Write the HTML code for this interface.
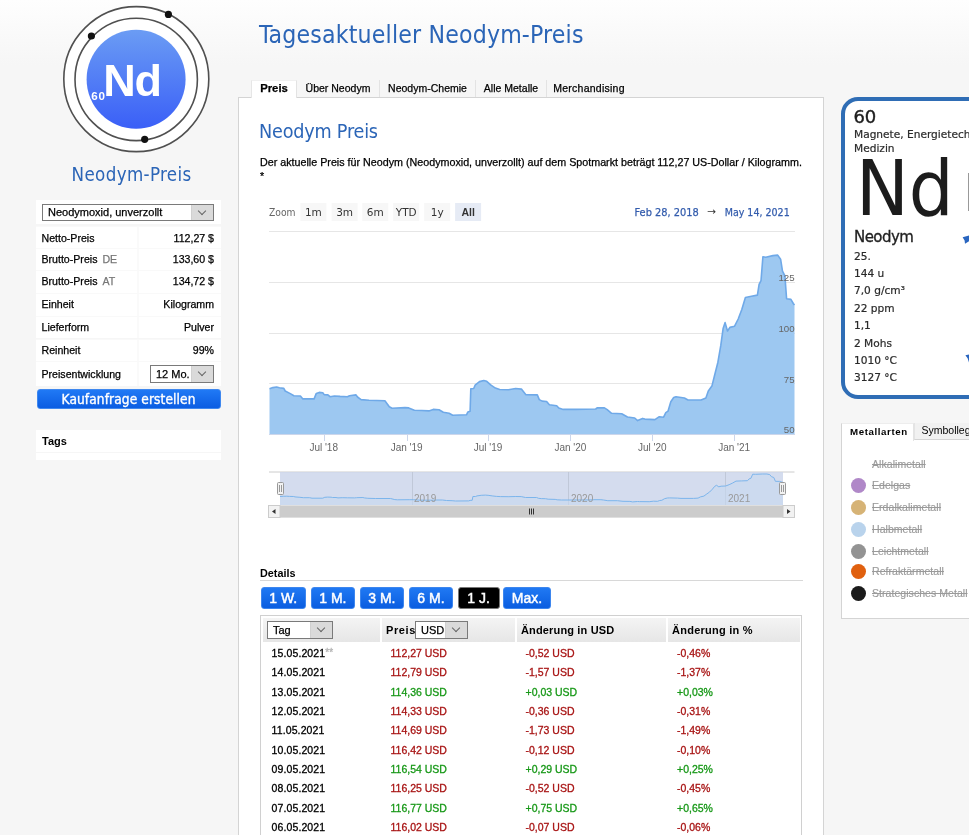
<!DOCTYPE html>
<html lang="de"><head><meta charset="utf-8"><title>Tagesaktueller Neodym-Preis</title>
<style>
*{margin:0;padding:0;box-sizing:border-box}
html,body{width:969px;height:835px;overflow:hidden}
body{background:#f6f6f6 linear-gradient(#fefefe 0,#f6f6f6 65px) no-repeat;font-family:"Liberation Sans",Arial,sans-serif;color:#000;position:relative}
.a{position:absolute;white-space:nowrap}
.dj{font-family:"DejaVu Sans",sans-serif}
.djc{font-family:"DejaVu Sans Condensed","DejaVu Sans",sans-serif}
.blue{color:#2b65b7}
/* left panel */
.lp{left:36px;width:185px;background:#fff}
.row{position:absolute;left:36px;width:185px;height:22px;background:#fff;font-size:10.6px;line-height:20.6px;border-top:1px solid #f9f9f9;-webkit-text-stroke:.25px currentColor}
.row .k{position:absolute;left:5.5px;top:0}
.row .v{position:absolute;right:7px;top:0}
.row .sep{position:absolute;left:101px;top:0;width:2px;height:100%;background:#fafafa}
.sel{position:absolute;background:#fff;border:1px solid #7a7a7a;font-size:11px;line-height:14px;padding-left:5px;-webkit-text-stroke:.25px currentColor}
.sel .dd{position:absolute;right:0;top:0;bottom:0;width:22px;background:#dadada;border-left:1px solid #d0d0d0}
.sel .dd:after{content:"";position:absolute;left:7px;top:3px;width:5px;height:5px;border-right:1px solid #666;border-bottom:1px solid #666;transform:rotate(45deg)}
.btn{position:absolute;color:#fff;border-radius:3px;background:linear-gradient(#2079f5,#0b5de2);border:1px solid #3f88ef;text-align:center}
/* main */
.tab{position:absolute;top:80px;height:17px;font-size:10.5px;line-height:17px;text-align:center;background:transparent;border-right:1px solid #e3e3e3;color:#000;-webkit-text-stroke:.25px #000}
.zb{position:absolute;top:203px;width:26px;height:18px;background:#f7f7f7;font-size:11px;line-height:18px;text-align:center;color:#333;font-family:"DejaVu Sans",sans-serif}
.db{position:absolute;top:587px;width:46px;height:22px;font-size:14px;line-height:20px;-webkit-text-stroke:.45px #fff;font-family:"Liberation Sans",Arial,sans-serif;background:linear-gradient(#2079f3,#0a5de0);border-color:#3d86ee}
.tr{position:absolute;left:262px;width:538px;height:19px;font-size:10.5px;line-height:19px;-webkit-text-stroke:.3px currentColor}
.tr span{position:absolute;top:0}
.r{color:#a81414}.g{color:#179817}
.leg{position:absolute;left:851px;font-size:10.5px;line-height:15px;color:#9a9a9a;white-space:nowrap}
.leg i{position:absolute;left:0;top:0;width:15px;height:15px;border-radius:50%}
.leg span{position:absolute;left:21px;top:0;text-decoration:line-through;letter-spacing:.05px;-webkit-text-stroke:.15px #9a9a9a}
.cl{position:absolute;left:854px;font-size:10.6px;color:#2a2a2a;-webkit-text-stroke:.2px #2a2a2a;font-family:"DejaVu Sans",sans-serif;white-space:nowrap}
</style></head><body>

<!-- LOGO -->
<svg class="a" style="left:0;top:0" width="230" height="160" viewBox="0 0 230 160">
 <defs><linearGradient id="lg" x1="0" y1="0" x2="0" y2="1"><stop offset="0" stop-color="#6b9cf4"/><stop offset="1" stop-color="#3a5ff7"/></linearGradient></defs>
 <circle cx="136.3" cy="79.1" r="72.5" fill="#fff" stroke="#505050" stroke-width="1.6"/>
 <circle cx="136.2" cy="79.4" r="61.2" fill="none" stroke="#505050" stroke-width="1.6"/>
 <circle cx="136.1" cy="79.25" r="49.5" fill="url(#lg)"/>
 <circle cx="168.4" cy="14.4" r="3.6" fill="#111"/>
 <circle cx="91.4" cy="36" r="3.6" fill="#111"/>
 <circle cx="144.7" cy="139.3" r="3.6" fill="#111"/>
 <text x="103.2" y="95.6" fill="#fff" font-family="Liberation Sans" font-weight="bold" font-size="45" letter-spacing="-1.1">Nd</text>
 <text x="91.3" y="99.6" fill="#fff" font-family="Liberation Sans" font-weight="bold" font-size="11.6" letter-spacing=".8">60</text>
</svg>
<div class="a blue djc" style="left:71.6px;top:163px;font-size:18.6px;line-height:24px;letter-spacing:.35px">Neodym-Preis</div>

<!-- LEFT PANEL -->
<div class="a" style="left:36px;top:200px;width:185px;height:24px;background:#fff"></div>
<div class="sel" style="left:42px;top:204px;width:172px;height:17px">Neodymoxid, unverzollt<div class="dd"></div></div>
<div class="row" style="top:226px;height:22px;line-height:22.3px"><div class="sep"></div><span class="k">Netto-Preis</span><span class="v">112,27 $</span></div>
<div class="row" style="top:247.8px;height:22.5px"><div class="sep"></div><span class="k">Brutto-Preis <span style="color:#777;margin-left:2px">DE</span></span><span class="v">133,60 $</span></div>
<div class="row" style="top:270.3px;height:22.5px"><div class="sep"></div><span class="k">Brutto-Preis <span style="color:#777;margin-left:2px">AT</span></span><span class="v">134,72 $</span></div>
<div class="row" style="top:292.8px;height:22.9px"><div class="sep"></div><span class="k">Einheit</span><span class="v">Kilogramm</span></div>
<div class="row" style="top:315.7px;height:22.8px"><div class="sep"></div><span class="k">Lieferform</span><span class="v">Pulver</span></div>
<div class="row" style="top:338.5px;height:22.2px"><div class="sep"></div><span class="k">Reinheit</span><span class="v">99%</span></div>
<div class="row" style="top:360.7px;height:25.3px;line-height:25.3px"><div class="sep"></div><span class="k">Preisentwicklung</span></div>
<div class="sel" style="left:150px;top:365px;width:64px;height:18px;line-height:16px;font-size:11px">12 Mo.<div class="dd"></div></div>
<div class="btn djc" style="left:36.5px;top:389px;width:184px;height:20px;font-size:13.6px;line-height:18px;-webkit-text-stroke:.35px #fff;letter-spacing:.1px">Kaufanfrage erstellen</div>
<div class="a" style="left:36px;top:430px;width:185px;height:22px;background:#fff;font-size:11px;font-weight:bold;line-height:22px;padding-left:6px">Tags</div>
<div class="a" style="left:36px;top:453px;width:185px;height:7px;background:#fff"></div>

<!-- TITLE -->
<div class="a blue djc" style="left:259px;top:19px;font-size:24.6px;line-height:32px;letter-spacing:.17px">Tagesaktueller Neodym-Preis</div>

<!-- MAIN PANEL -->
<div class="a" style="left:238px;top:97px;width:586px;height:760px;background:#fff;border:1px solid #d4d4d4"></div>
<div class="tab" style="left:251px;width:46px;background:#fff;font-weight:bold;font-size:11.3px;border-left:1px solid #e6e6e6;border-top:1px solid #f0f0f0;height:18px;line-height:15px">Preis</div>
<div class="tab" style="left:297px;width:83px">Über Neodym</div>
<div class="tab" style="left:380px;width:96px">Neodym-Chemie</div>
<div class="tab" style="left:476px;width:71px">Alle Metalle</div>
<div class="tab" style="left:547px;width:84px;border-right:none;letter-spacing:.25px">Merchandising</div>

<div class="a blue djc" style="left:259px;top:120px;font-size:19.6px;line-height:24px;letter-spacing:-.2px">Neodym Preis</div>
<div class="a" style="left:260px;top:155px;font-size:10.72px;line-height:14px;white-space:normal;width:560px;-webkit-text-stroke:.25px #000">Der aktuelle Preis für Neodym (Neodymoxid, unverzollt) auf dem Spotmarkt beträgt 112,27 US-Dollar / Kilogramm.<br>*</div>

<!-- CHART -->
<svg class="a" style="left:0;top:0" width="969" height="835" viewBox="0 0 969 835" font-family="Liberation Sans, sans-serif">
<text x="269" y="215.5" font-size="10.2" fill="#666" font-family="DejaVu Sans" textLength="26.5" lengthAdjust="spacingAndGlyphs">Zoom</text><rect x="300.4" y="203" width="26" height="18" fill="#f7f7f7"/><text x="313.4" y="215.5" text-anchor="middle" font-size="10.5" font-weight="normal" font-family="DejaVu Sans" fill="#333">1m</text><rect x="331.6" y="203" width="26" height="18" fill="#f7f7f7"/><text x="344.6" y="215.5" text-anchor="middle" font-size="10.5" font-weight="normal" font-family="DejaVu Sans" fill="#333">3m</text><rect x="362.3" y="203" width="26" height="18" fill="#f7f7f7"/><text x="375.3" y="215.5" text-anchor="middle" font-size="10.5" font-weight="normal" font-family="DejaVu Sans" fill="#333">6m</text><rect x="393.2" y="203" width="26" height="18" fill="#f7f7f7"/><text x="406.2" y="215.5" text-anchor="middle" font-size="10.5" font-weight="normal" font-family="DejaVu Sans" fill="#333">YTD</text><rect x="424.2" y="203" width="26" height="18" fill="#f7f7f7"/><text x="437.2" y="215.5" text-anchor="middle" font-size="10.5" font-weight="normal" font-family="DejaVu Sans" fill="#333">1y</text><rect x="455.1" y="203" width="26" height="18" fill="#e6ebf5"/><text x="468.1" y="215.5" text-anchor="middle" font-size="10.5" font-weight="bold" font-family="Liberation Sans" fill="#333">All</text><text x="634.5" y="215.5" font-size="10.5" fill="#335cad" stroke="#335cad" stroke-width=".25" font-family="DejaVu Sans" textLength="64.3" lengthAdjust="spacingAndGlyphs">Feb 28, 2018</text><text x="707" y="215" font-size="10" fill="#333" font-family="DejaVu Sans" textLength="9" lengthAdjust="spacingAndGlyphs">→</text><text x="724.7" y="215.5" font-size="10.5" fill="#335cad" stroke="#335cad" stroke-width=".25" font-family="DejaVu Sans" textLength="65" lengthAdjust="spacingAndGlyphs">May 14, 2021</text>
<line x1="269" x2="795" y1="231.5" y2="231.5" stroke="#e6e6e6" stroke-width="1"/><line x1="269" x2="795" y1="282.5" y2="282.5" stroke="#e6e6e6" stroke-width="1"/><line x1="269" x2="795" y1="333.5" y2="333.5" stroke="#e6e6e6" stroke-width="1"/><line x1="269" x2="795" y1="383.5" y2="383.5" stroke="#e6e6e6" stroke-width="1"/>
<path d="M269.5 388.8 L272.9 387.6 L276.6 387 L279.4 387.8 L283.8 388.4 L285.2 391 L290.3 393.6 L293.9 395.7 L300.4 396 L302.9 398.9 L314.1 398.9 L316.3 393.4 L319.2 392.4 L322.8 392.7 L324.2 394.6 L327.9 394.9 L330 396.7 L334.4 396 L340.1 396.4 L347.4 396.7 L349.5 395.7 L356 394.9 L357.5 397 L361.1 399.6 L369 400.3 L384.9 400.8 L389.3 406.8 L392.1 408.3 L405 407.6 L408.7 407.9 L414.4 410.2 L421.7 410.5 L428.9 410.9 L433.2 409.4 L439 409.7 L443.3 412.3 L449.1 413.3 L452.7 415.2 L466.5 414.8 L467.9 411.9 L470.1 411.2 L470.8 388.8 L473.7 388.5 L475.1 385.2 L479.5 381.6 L483.8 380.5 L486.7 381.3 L491 385.2 L495.4 388.1 L499.7 389.5 L508.4 389.8 L515.6 388.5 L521.4 389.1 L525.7 394.6 L537.3 394.9 L539.3 399.6 L542.2 401.1 L546.6 401.5 L549.4 404.7 L556.7 405.8 L558.8 408 L563.2 409.4 L575.5 409.4 L595.7 409 L597.1 407.9 L604.4 407.9 L607.2 409.7 L611.6 413.3 L621.7 413.8 L627.5 417 L634.7 418 L637.6 420.6 L642.6 418.4 L644.8 419.1 L654.9 419.6 L659.3 416.7 L663.6 417.2 L665.8 412.6 L668 411.2 L670.8 401.8 L673.7 397.5 L676 396.8 L684.4 398 L688 400 L701.1 400 L705.9 398 L708.3 390.9 L711.9 386.1 L714.3 376.5 L717.9 362.2 L720.8 345.4 L723.1 328.6 L725.1 322.6 L727.5 331 L729.9 327.4 L734.6 326.2 L738.2 319 L741.8 309.5 L745.4 297.5 L751.4 296.3 L757.4 295.1 L759.1 284.3 L761 280.7 L762.9 256.8 L765.8 257.3 L772.9 255.6 L777.7 255.1 L780.6 259.2 L782.5 271.1 L784.9 275.9 L786.6 298.7 L790.9 299.4 L793.3 303.5 L794.5 305 L794.5 434.2 L269.5 434.2 Z" fill="#9dc8f1"/>
<path d="M269.5 388.8 L272.9 387.6 L276.6 387 L279.4 387.8 L283.8 388.4 L285.2 391 L290.3 393.6 L293.9 395.7 L300.4 396 L302.9 398.9 L314.1 398.9 L316.3 393.4 L319.2 392.4 L322.8 392.7 L324.2 394.6 L327.9 394.9 L330 396.7 L334.4 396 L340.1 396.4 L347.4 396.7 L349.5 395.7 L356 394.9 L357.5 397 L361.1 399.6 L369 400.3 L384.9 400.8 L389.3 406.8 L392.1 408.3 L405 407.6 L408.7 407.9 L414.4 410.2 L421.7 410.5 L428.9 410.9 L433.2 409.4 L439 409.7 L443.3 412.3 L449.1 413.3 L452.7 415.2 L466.5 414.8 L467.9 411.9 L470.1 411.2 L470.8 388.8 L473.7 388.5 L475.1 385.2 L479.5 381.6 L483.8 380.5 L486.7 381.3 L491 385.2 L495.4 388.1 L499.7 389.5 L508.4 389.8 L515.6 388.5 L521.4 389.1 L525.7 394.6 L537.3 394.9 L539.3 399.6 L542.2 401.1 L546.6 401.5 L549.4 404.7 L556.7 405.8 L558.8 408 L563.2 409.4 L575.5 409.4 L595.7 409 L597.1 407.9 L604.4 407.9 L607.2 409.7 L611.6 413.3 L621.7 413.8 L627.5 417 L634.7 418 L637.6 420.6 L642.6 418.4 L644.8 419.1 L654.9 419.6 L659.3 416.7 L663.6 417.2 L665.8 412.6 L668 411.2 L670.8 401.8 L673.7 397.5 L676 396.8 L684.4 398 L688 400 L701.1 400 L705.9 398 L708.3 390.9 L711.9 386.1 L714.3 376.5 L717.9 362.2 L720.8 345.4 L723.1 328.6 L725.1 322.6 L727.5 331 L729.9 327.4 L734.6 326.2 L738.2 319 L741.8 309.5 L745.4 297.5 L751.4 296.3 L757.4 295.1 L759.1 284.3 L761 280.7 L762.9 256.8 L765.8 257.3 L772.9 255.6 L777.7 255.1 L780.6 259.2 L782.5 271.1 L784.9 275.9 L786.6 298.7 L790.9 299.4 L793.3 303.5 L794.5 305" fill="none" stroke="#6fa9e8" stroke-width="1.6" stroke-linejoin="round"/>
<line x1="269" x2="795" y1="434.5" y2="434.5" stroke="#ccd6eb" stroke-width="1"/>
<line x1="324.5" x2="324.5" y1="434" y2="441" stroke="#ccd6eb" stroke-width="1"/><text x="323.7" y="451.2" text-anchor="middle" font-size="10" fill="#666">Jul '18</text><line x1="407.5" x2="407.5" y1="434" y2="441" stroke="#ccd6eb" stroke-width="1"/><text x="406.6" y="451.2" text-anchor="middle" font-size="10" fill="#666">Jan '19</text><line x1="488.5" x2="488.5" y1="434" y2="441" stroke="#ccd6eb" stroke-width="1"/><text x="488.1" y="451.2" text-anchor="middle" font-size="10" fill="#666">Jul '19</text><line x1="570.5" x2="570.5" y1="434" y2="441" stroke="#ccd6eb" stroke-width="1"/><text x="570.4" y="451.2" text-anchor="middle" font-size="10" fill="#666">Jan '20</text><line x1="652.5" x2="652.5" y1="434" y2="441" stroke="#ccd6eb" stroke-width="1"/><text x="652.3" y="451.2" text-anchor="middle" font-size="10" fill="#666">Jul '20</text><line x1="734.5" x2="734.5" y1="434" y2="441" stroke="#ccd6eb" stroke-width="1"/><text x="734.2" y="451.2" text-anchor="middle" font-size="10" fill="#666">Jan '21</text><text x="794.6" y="281" text-anchor="end" font-size="9.7" fill="#666">125</text><text x="794.6" y="332" text-anchor="end" font-size="9.7" fill="#666">100</text><text x="794.6" y="382.5" text-anchor="end" font-size="9.7" fill="#666">75</text><text x="794.6" y="433" text-anchor="end" font-size="9.7" fill="#666">50</text>

<line x1="269" x2="794.5" y1="472" y2="472" stroke="#cccccc" stroke-width="1"/>
<rect x="280" y="472" width="503" height="33" fill="#ccd6eb" fill-opacity="0.85"/>
<line x1="412.5" x2="412.5" y1="472" y2="505" stroke="#c0c8d8" stroke-width="1"/>
<line x1="568.5" x2="568.5" y1="472" y2="505" stroke="#c0c8d8" stroke-width="1"/>
<line x1="725.5" x2="725.5" y1="472" y2="505" stroke="#c0c8d8" stroke-width="1"/>
<path d="M280 496.5 L283.3 496.3 L286.8 496.2 L289.5 496.4 L293.7 496.5 L295 496.9 L299.9 497.3 L303.4 497.7 L309.6 497.7 L312 498.2 L322.7 498.2 L324.8 497.3 L327.6 497.1 L331.1 497.2 L332.4 497.5 L336 497.5 L338 497.9 L342.2 497.7 L347.6 497.8 L354.6 497.9 L356.6 497.7 L362.9 497.5 L364.3 497.9 L367.8 498.3 L375.3 498.5 L390.6 498.5 L394.8 499.6 L397.5 499.8 L409.8 499.7 L413.4 499.7 L418.8 500.1 L425.8 500.2 L432.7 500.2 L436.8 500 L442.4 500 L446.5 500.5 L452.1 500.7 L455.5 501 L468.7 500.9 L470.1 500.4 L472.2 500.3 L472.9 496.5 L475.6 496.5 L477 495.9 L481.2 495.3 L485.3 495.1 L488.1 495.3 L492.2 495.9 L496.4 496.4 L500.6 496.6 L508.9 496.7 L515.8 496.5 L521.3 496.6 L525.5 497.5 L536.6 497.5 L538.5 498.3 L541.3 498.6 L545.5 498.7 L548.2 499.2 L555.2 499.4 L557.2 499.8 L561.4 500 L573.2 500 L592.5 499.9 L593.9 499.7 L600.9 499.7 L603.5 500 L607.8 500.7 L617.4 500.7 L623 501.3 L629.9 501.4 L632.7 501.9 L637.5 501.5 L639.6 501.6 L649.2 501.7 L653.5 501.2 L657.6 501.3 L659.7 500.5 L661.8 500.3 L664.5 498.7 L667.3 498 L669.5 497.9 L677.5 498.1 L681 498.4 L693.5 498.4 L698.1 498.1 L700.4 496.9 L703.9 496.1 L706.2 494.4 L709.6 492 L712.4 489.2 L714.6 486.4 L716.5 485.3 L718.8 486.8 L721.1 486.2 L725.6 486 L729.1 484.7 L732.5 483.1 L736 481.1 L741.7 480.9 L747.5 480.7 L749.1 478.9 L750.9 478.3 L752.7 474.2 L755.5 474.3 L762.3 474 L766.9 474 L769.7 474.6 L771.5 476.7 L773.8 477.5 L775.4 481.3 L779.6 481.4 L781.9 482.1 L783 482.4 L783 505.1 L280 505.1 Z" fill="#c6d8f0" fill-opacity="0.6"/>
<path d="M280 496.5 L283.3 496.3 L286.8 496.2 L289.5 496.4 L293.7 496.5 L295 496.9 L299.9 497.3 L303.4 497.7 L309.6 497.7 L312 498.2 L322.7 498.2 L324.8 497.3 L327.6 497.1 L331.1 497.2 L332.4 497.5 L336 497.5 L338 497.9 L342.2 497.7 L347.6 497.8 L354.6 497.9 L356.6 497.7 L362.9 497.5 L364.3 497.9 L367.8 498.3 L375.3 498.5 L390.6 498.5 L394.8 499.6 L397.5 499.8 L409.8 499.7 L413.4 499.7 L418.8 500.1 L425.8 500.2 L432.7 500.2 L436.8 500 L442.4 500 L446.5 500.5 L452.1 500.7 L455.5 501 L468.7 500.9 L470.1 500.4 L472.2 500.3 L472.9 496.5 L475.6 496.5 L477 495.9 L481.2 495.3 L485.3 495.1 L488.1 495.3 L492.2 495.9 L496.4 496.4 L500.6 496.6 L508.9 496.7 L515.8 496.5 L521.3 496.6 L525.5 497.5 L536.6 497.5 L538.5 498.3 L541.3 498.6 L545.5 498.7 L548.2 499.2 L555.2 499.4 L557.2 499.8 L561.4 500 L573.2 500 L592.5 499.9 L593.9 499.7 L600.9 499.7 L603.5 500 L607.8 500.7 L617.4 500.7 L623 501.3 L629.9 501.4 L632.7 501.9 L637.5 501.5 L639.6 501.6 L649.2 501.7 L653.5 501.2 L657.6 501.3 L659.7 500.5 L661.8 500.3 L664.5 498.7 L667.3 498 L669.5 497.9 L677.5 498.1 L681 498.4 L693.5 498.4 L698.1 498.1 L700.4 496.9 L703.9 496.1 L706.2 494.4 L709.6 492 L712.4 489.2 L714.6 486.4 L716.5 485.3 L718.8 486.8 L721.1 486.2 L725.6 486 L729.1 484.7 L732.5 483.1 L736 481.1 L741.7 480.9 L747.5 480.7 L749.1 478.9 L750.9 478.3 L752.7 474.2 L755.5 474.3 L762.3 474 L766.9 474 L769.7 474.6 L771.5 476.7 L773.8 477.5 L775.4 481.3 L779.6 481.4 L781.9 482.1 L783 482.4" fill="none" stroke="#7cb5ec" stroke-width="1"/>
<text x="414" y="501.5" font-size="10" fill="#999">2019</text>
<text x="571" y="501.5" font-size="10" fill="#999">2020</text>
<text x="728" y="501.5" font-size="10" fill="#999">2021</text>
<rect x="277.5" y="482.5" width="6" height="12" rx="1" fill="#f2f2f2" stroke="#999" stroke-width="1"/>
<line x1="279.5" x2="279.5" y1="485" y2="492" stroke="#999"/><line x1="281.5" x2="281.5" y1="485" y2="492" stroke="#999"/>
<rect x="779.5" y="482.5" width="6" height="12" rx="1" fill="#f2f2f2" stroke="#999" stroke-width="1"/>
<line x1="781.5" x2="781.5" y1="485" y2="492" stroke="#999"/><line x1="783.5" x2="783.5" y1="485" y2="492" stroke="#999"/>
<rect x="268.5" y="505.5" width="526" height="12" fill="#f2f2f2" stroke="#f2f2f2"/>
<rect x="280" y="505.5" width="503" height="12" fill="#cccccc"/>
<rect x="268.5" y="505.5" width="11.5" height="12" fill="#f2f2f2" stroke="#cccccc" stroke-width="1"/>
<rect x="783" y="505.5" width="11.5" height="12" fill="#f2f2f2" stroke="#cccccc" stroke-width="1"/>
<path d="M275.5 509 L272 511.5 L275.5 514 Z" fill="#333"/>
<path d="M787 509 L790.5 511.5 L787 514 Z" fill="#333"/>
<line x1="529.5" x2="529.5" y1="508.5" y2="514.5" stroke="#333"/><line x1="531.5" x2="531.5" y1="508.5" y2="514.5" stroke="#333"/><line x1="533.5" x2="533.5" y1="508.5" y2="514.5" stroke="#333"/>

</svg>

<!-- DETAILS -->
<div class="a" style="left:260px;top:566px;font-size:10.8px;font-weight:bold;line-height:14px">Details</div>
<div class="a" style="left:260px;top:580px;width:543px;height:1px;background:#d8d8d8"></div>
<div class="btn db" style="left:260.5px;width:45.5px">1 W.</div>
<div class="btn db" style="left:310.5px;width:44.8px">1 M.</div>
<div class="btn db" style="left:359.6px;width:44.6px">3 M.</div>
<div class="btn db" style="left:408.6px;width:44.7px">6 M.</div>
<div class="btn db" style="left:457.5px;width:42px;background:#000;border-color:#777">1 J.</div>
<div class="btn db" style="left:503.4px;width:47.2px">Max.</div>

<!-- TABLE -->
<div class="a" style="left:260px;top:615px;width:542px;height:240px;border:1px solid #d0d0d0;background:#fff"></div>
<div class="a" style="left:263px;top:618px;width:117px;height:24px;background:linear-gradient(#f4f4f4,#e6e6e6)"></div>
<div class="a" style="left:382px;top:618px;width:133px;height:24px;background:linear-gradient(#f4f4f4,#e6e6e6)"></div>
<div class="a" style="left:517px;top:618px;width:149px;height:24px;background:linear-gradient(#f4f4f4,#e6e6e6)"></div>
<div class="a" style="left:668px;top:618px;width:132px;height:24px;background:linear-gradient(#f4f4f4,#e6e6e6)"></div>
<div class="sel" style="left:267px;top:621px;width:66px;height:18px;line-height:16px">Tag<div class="dd"></div></div>
<div class="a" style="left:386px;top:623px;font-size:11px;font-weight:bold;line-height:14px;letter-spacing:.6px">Preis</div>
<div class="sel" style="left:415px;top:621px;width:53px;height:18px;line-height:16px">USD<div class="dd"></div></div>
<div class="a" style="left:521px;top:623px;font-size:11px;font-weight:bold;line-height:14px;letter-spacing:.15px">Änderung in USD</div>
<div class="a" style="left:672px;top:623px;font-size:11px;font-weight:bold;line-height:14px;letter-spacing:.25px">Änderung in %</div>
<div class="tr" style="top:643.9px"><span style="left:9.5px;letter-spacing:.12px">15.05.2021<span style="position:static;color:#b4b4b4;font-size:10px;vertical-align:top;line-height:17px">**</span></span><span class="r" style="left:128.5px">112,27 USD</span><span class="r" style="left:263.5px">-0,52 USD</span><span class="r" style="left:415px">-0,46%</span></div><div class="tr" style="top:663.2px"><span style="left:9.5px;letter-spacing:.12px">14.05.2021</span><span class="r" style="left:128.5px">112,79 USD</span><span class="r" style="left:263.5px">-1,57 USD</span><span class="r" style="left:415px">-1,37%</span></div><div class="tr" style="top:682.6px"><span style="left:9.5px;letter-spacing:.12px">13.05.2021</span><span class="g" style="left:128.5px">114,36 USD</span><span class="g" style="left:263.5px">+0,03 USD</span><span class="g" style="left:415px">+0,03%</span></div><div class="tr" style="top:701.9px"><span style="left:9.5px;letter-spacing:.12px">12.05.2021</span><span class="r" style="left:128.5px">114,33 USD</span><span class="r" style="left:263.5px">-0,36 USD</span><span class="r" style="left:415px">-0,31%</span></div><div class="tr" style="top:721.3px"><span style="left:9.5px;letter-spacing:.12px">11.05.2021</span><span class="r" style="left:128.5px">114,69 USD</span><span class="r" style="left:263.5px">-1,73 USD</span><span class="r" style="left:415px">-1,49%</span></div><div class="tr" style="top:740.6px"><span style="left:9.5px;letter-spacing:.12px">10.05.2021</span><span class="r" style="left:128.5px">116,42 USD</span><span class="r" style="left:263.5px">-0,12 USD</span><span class="r" style="left:415px">-0,10%</span></div><div class="tr" style="top:760.0px"><span style="left:9.5px;letter-spacing:.12px">09.05.2021</span><span class="g" style="left:128.5px">116,54 USD</span><span class="g" style="left:263.5px">+0,29 USD</span><span class="g" style="left:415px">+0,25%</span></div><div class="tr" style="top:779.4px"><span style="left:9.5px;letter-spacing:.12px">08.05.2021</span><span class="r" style="left:128.5px">116,25 USD</span><span class="r" style="left:263.5px">-0,52 USD</span><span class="r" style="left:415px">-0,45%</span></div><div class="tr" style="top:798.7px"><span style="left:9.5px;letter-spacing:.12px">07.05.2021</span><span class="g" style="left:128.5px">116,77 USD</span><span class="g" style="left:263.5px">+0,75 USD</span><span class="g" style="left:415px">+0,65%</span></div><div class="tr" style="top:818.0px"><span style="left:9.5px;letter-spacing:.12px">06.05.2021</span><span class="r" style="left:128.5px">116,02 USD</span><span class="r" style="left:263.5px">-0,07 USD</span><span class="r" style="left:415px">-0,06%</span></div>

<!-- RIGHT CARD -->
<div class="a" style="left:841px;top:97px;width:160px;height:302px;border:4.5px solid #2f6db5;border-radius:17px;background:#fff"></div>
<div class="a dj" style="left:853.5px;top:105px;font-size:18px;line-height:24px;color:#1e1e1e;-webkit-text-stroke:.4px #1e1e1e;letter-spacing:-.3px">60</div>
<div class="cl" style="top:127px;line-height:14px;font-size:10.6px">Magnete, Energietechnik,<br>Medizin</div>
<div class="a dj" id="bignd" style="left:855.5px;top:143.6px;transform:scaleX(.93);transform-origin:0 0;font-size:76px;line-height:90px;color:#1c1c1c">Nd</div>
<div class="a" style="left:968px;top:173px;width:2px;height:38px;background:#999"></div>
<div class="a dj" style="left:854px;top:226.6px;font-size:15px;line-height:20px;color:#222;letter-spacing:-.55px;-webkit-text-stroke:.3px #222">Neodym</div>
<div class="cl" style="top:248.7px;line-height:14px">25.</div><div class="cl" style="top:266.1px;line-height:14px">144 u</div><div class="cl" style="top:283.4px;line-height:14px">7,0 g/cm³</div><div class="cl" style="top:300.8px;line-height:14px">22 ppm</div><div class="cl" style="top:318.2px;line-height:14px">1,1</div><div class="cl" style="top:335.6px;line-height:14px">2 Mohs</div><div class="cl" style="top:352.9px;line-height:14px">1010 °C</div><div class="cl" style="top:370.3px;line-height:14px">3127 °C</div><svg class="a" style="left:955px;top:230px" width="14" height="140" viewBox="955 230 14 140"><path d="M962.6 237.2 L969 235.6 L969 241.2 L965 243.8 L964.6 240.6 Z" fill="#2a66c0"/><path d="M965.4 355.2 L969 354.6 L969 362.4 L967.6 358.2 Z" fill="#2a66c0"/></svg>

<!-- METALLARTEN -->
<div class="a" style="left:841px;top:439px;width:140px;height:180px;border:1px solid #d4d4d4;background:#fff"></div>
<div class="a" style="left:914px;top:423px;width:60px;height:17px;background:#f1f1f1;border-bottom:1px solid #d4d4d4;border-left:1px solid #e4e4e4;font-size:10.5px;line-height:15px;padding-left:6.5px">Symbollegende</div>
<div class="a" style="left:841px;top:423px;width:73px;height:18px;background:#fff;border:1px solid #d4d4d4;border-top-color:#ededed;border-right-color:#e4e4e4;border-bottom:none;font-size:9.7px;letter-spacing:.6px;font-weight:bold;line-height:15px;padding-left:8px">Metallarten</div>
<div class="leg" style="top:456.5px"><i style="background:#ffffff"></i><span>Alkalimetall</span></div><div class="leg" style="top:477.5px"><i style="background:#b088c8"></i><span>Edelgas</span></div><div class="leg" style="top:499.9px"><i style="background:#d6b376"></i><span>Erdalkalimetall</span></div><div class="leg" style="top:521.5px"><i style="background:#b9d3ec"></i><span>Halbmetall</span></div><div class="leg" style="top:543.5px"><i style="background:#939393"></i><span>Leichtmetall</span></div><div class="leg" style="top:564.1px"><i style="background:#e0600f"></i><span>Refraktärmetall</span></div><div class="leg" style="top:586.2px"><i style="background:#1b1b1b"></i><span>Strategisches Metall</span></div>
</body></html>
